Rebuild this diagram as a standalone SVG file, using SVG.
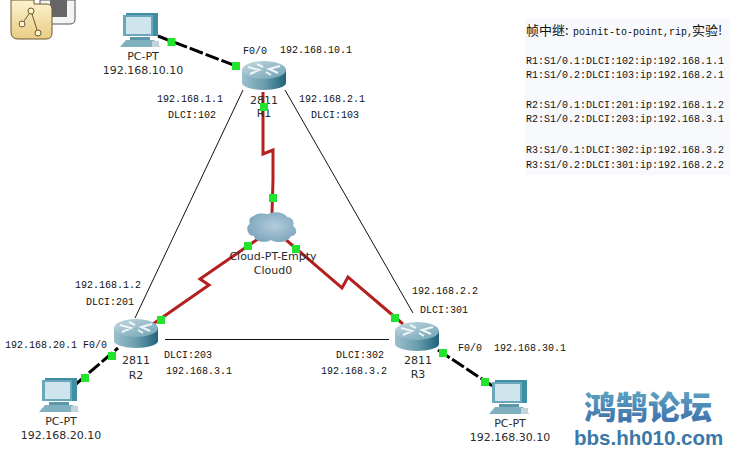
<svg xmlns="http://www.w3.org/2000/svg" width="740" height="465" viewBox="0 0 740 465">
<style>
.m{font-family:"Liberation Mono","Noto Sans CJK SC",monospace;font-size:10px;fill:#111}
.c{font-family:"Noto Sans CJK SC",sans-serif;font-size:13px;fill:#111}
.s{font-family:"DejaVu Sans","Liberation Sans",sans-serif;font-size:11px;fill:#2a2a2a;text-anchor:middle}
.red{fill:none;stroke:#b3201f;stroke-width:3}
.thin{fill:none;stroke:#111;stroke-width:1}
.eth{fill:none;stroke:#000;stroke-width:3;stroke-dasharray:14 3}
.dot{fill:#22e32e}
</style>
<defs>
<linearGradient id="rside" x1="0" x2="1" y1="0" y2="0"><stop offset="0" stop-color="#9cc0cc"/><stop offset=".5" stop-color="#6b9db0"/><stop offset="1" stop-color="#1f6479"/></linearGradient>
<linearGradient id="rtop" x1="0" x2="1" y1="0" y2="1"><stop offset="0" stop-color="#c4d9e0"/><stop offset="1" stop-color="#6ea2b4"/></linearGradient>
<linearGradient id="brand" x1="0" x2="0" y1="0" y2="1"><stop offset="0" stop-color="#63b0c8"/><stop offset="1" stop-color="#3a6aa8"/></linearGradient>
<radialGradient id="cl" cx=".55" cy=".45" r=".6"><stop offset="0" stop-color="#b3ccda"/><stop offset="1" stop-color="#7ba5bc"/></radialGradient>
<linearGradient id="icon" x1="0" x2="0" y1="0" y2="1"><stop offset="0" stop-color="#fdf3cf"/><stop offset="1" stop-color="#eacb85"/></linearGradient>
<g id="router">
<path d="M-22-6V7C-22 11-11 14 0 14S22 11 22 7V-6Z" fill="url(#rside)"/>
<ellipse cx="0" cy="-6" rx="22" ry="9" fill="url(#rtop)"/>
<path d="M-16-9-5-6-14-2M16-10 5-7 14-3M-7-12-1-9M7-1 2-4" stroke="#eef5f7" stroke-width="2" fill="none"/>
</g>
<g id="pc">
<path d="M6 0H38V23H6Z" fill="#3f8ea4"/>
<path d="M3 2H33V23H3Z" fill="#6ba7ba"/>
<path d="M6 4H31V21H6Z" fill="#cfe5ee"/>
<path d="M10 24H30V27H10Z" fill="#5c97aa"/>
<path d="M6 27H34L40 34H0Z" fill="#7fb0c0"/>
<path d="M32 28H39V34H32Z" fill="#c4d3d8"/>
</g>
</defs>

<rect x="525" y="18" width="205" height="157" fill="#f7f9fc"/>

<!-- window icon, top left corner -->
<g id="toolbar-icon">
<path d="M40 0H75V19Q75 24 70 24H40Z" fill="#f4f4f4" stroke="#555"/>
<rect x="50" y="0" width="17" height="17" fill="#666"/>
<path d="M11 0V32Q11 39 18 39H46Q52 39 52 33V9Q52 4 46 4H34V0Z" fill="url(#icon)" stroke="#6b5a2e"/>
<path d="M22 24 31 11 38 33" fill="none" stroke="#6b5a2e"/>
<circle cx="22" cy="24" r="3" fill="#fdf3cf" stroke="#6b5a2e"/>
<circle cx="31" cy="11" r="3" fill="#fdf3cf" stroke="#6b5a2e"/>
<circle cx="38" cy="33" r="3" fill="#fdf3cf" stroke="#6b5a2e"/>
</g>

<g id="connectors">
<path class="thin" d="M243 90 135 318"/>
<path class="thin" d="M285 90 413 313"/>
<path class="thin" d="M165 339.500H389"/>
<path class="red" d="M263 92V154L273 150V180L272 213"/>
<path class="red" d="M258 239 200 279 209 285 150 326"/>
<path class="red" d="M285 239 342 288 348 277 403 324"/>
<path class="eth" d="M158 36 236 66"/>
<path class="eth" d="M76 384 118 348"/>
<path class="eth" d="M438 350 494 387"/>
</g>

<g id="cloud0">
<path d="M254 216C258 212 265 214 268 214 274 211 284 212 287 217 292 217 295 222 293 226 298 229 297 236 291 236 289 242 277 244 271 240 265 244 254 241 254 236 247 236 245 226 250 224 248 220 250 217 254 216Z" fill="url(#cl)"/>
<text class="s" x="273" y="260">Cloud-PT-Empty</text>
<text class="s" x="273" y="274">Cloud0</text>
</g>

<g id="r1">
<use href="#router" x="264" y="76"/>
<text class="s" x="264" y="104">2811</text>
<text class="s" x="264" y="117">R1</text>
</g>
<g id="r2">
<use href="#router" x="136" y="334"/>
<text class="s" x="136" y="364">2811</text>
<text class="s" x="136" y="379">R2</text>
</g>
<g id="r3">
<use href="#router" x="417" y="337"/>
<text class="s" x="418" y="364">2811</text>
<text class="s" x="418" y="378">R3</text>
</g>

<g id="pc1">
<use href="#pc" x="120" y="13"/>
<text class="s" x="143" y="60">PC-PT</text>
<text class="s" x="143" y="74">192.168.10.10</text>
</g>
<g id="pc2">
<use href="#pc" x="39" y="378"/>
<text class="s" x="61" y="425">PC-PT</text>
<text class="s" x="61" y="439">192.168.20.10</text>
</g>
<g id="pc3">
<use href="#pc" x="489" y="380"/>
<text class="s" x="510" y="427">PC-PT</text>
<text class="s" x="510" y="441">192.168.30.10</text>
</g>

<!-- link lights -->
<g id="lights">
<rect class="dot" x="167.500" y="38" width="8" height="8"/>
<rect class="dot" x="232" y="62" width="8" height="8"/>
<rect class="dot" x="260" y="103" width="8" height="8"/>
<rect class="dot" x="269" y="194" width="8" height="8"/>
<rect class="dot" x="244" y="242" width="8" height="8"/>
<rect class="dot" x="292" y="245" width="8" height="8"/>
<rect class="dot" x="157" y="316" width="8" height="8"/>
<rect class="dot" x="391" y="314" width="8" height="8"/>
<rect class="dot" x="108" y="352" width="8" height="8"/>
<rect class="dot" x="81" y="374" width="8" height="8"/>
<rect class="dot" x="439" y="349" width="8" height="8"/>
<rect class="dot" x="481" y="378" width="8" height="8"/>
</g>

<g id="labels">
<text class="m" x="243" y="54">F0/0</text>
<text class="m" x="280" y="53">192.168.10.1</text>
<text class="m" x="157" y="102">192.168.1.1</text>
<text class="m" x="168" y="118">DLCI:102</text>
<text class="m" x="299" y="102">192.168.2.1</text>
<text class="m" x="311" y="118">DLCI:103</text>
<text class="m" x="75" y="288">192.168.1.2</text>
<text class="m" x="86" y="305">DLCI:201</text>
<text class="m" x="5" y="348">192.168.20.1</text>
<text class="m" x="83" y="348">F0/0</text>
<text class="m" x="164" y="358">DLCI:203</text>
<text class="m" x="166" y="374">192.168.3.1</text>
<text class="m" x="336" y="358">DLCI:302</text>
<text class="m" x="321" y="374">192.168.3.2</text>
<text class="m" x="412" y="294">192.168.2.2</text>
<text class="m" x="420" y="313">DLCI:301</text>
<text class="m" x="458" y="351">F0/0</text>
<text class="m" x="494" y="351">192.168.30.1</text>
</g>

<g id="notes">
<text class="c" x="526" y="35">帧中继:</text>
<text class="m" x="573" y="35">poinit-to-point,rip,</text>
<text class="c" x="692" y="35">实验!</text>
<text class="m" x="526" y="64">R1:S1/0.1:DLCI:102:ip:192.168.1.1</text>
<text class="m" x="526" y="78">R1:S1/0.2:DLCI:103:ip:192.168.2.1</text>
<text class="m" x="526" y="108">R2:S1/0.1:DLCI:201:ip:192.168.1.2</text>
<text class="m" x="526" y="122">R2:S1/0.2:DLCI:203:ip:192.168.3.1</text>
<text class="m" x="526" y="153">R3:S1/0.1:DLCI:302:ip:192.168.3.2</text>
<text class="m" x="526" y="168">R3:S1/0.2:DLCI:301:ip:192.168.2.2</text>
</g>

<g id="brand-mark">
<text x="584" y="419" font-family="'Noto Sans CJK SC',sans-serif" font-weight="900" font-size="32" fill="url(#brand)">鸿鹄论坛</text>
<text x="574" y="445" font-family="'Liberation Sans',sans-serif" font-weight="700" font-size="20.500" fill="#3a78a8">bbs.hh010.com</text>
</g>
</svg>
